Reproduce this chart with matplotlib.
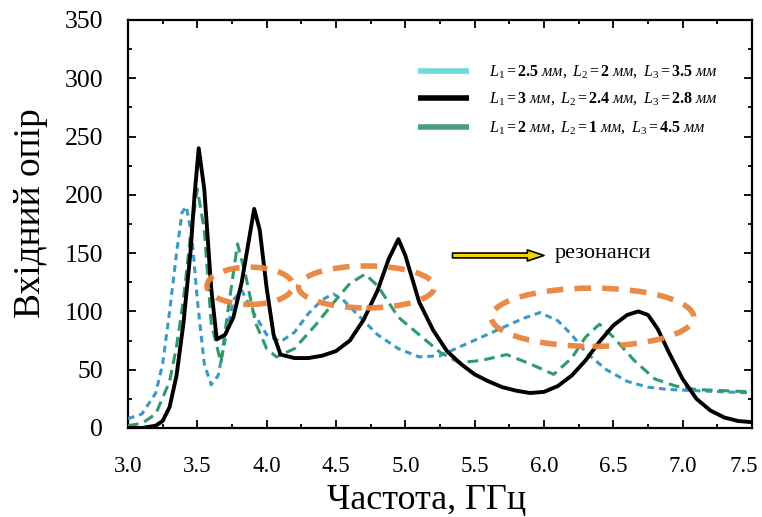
import numpy as np
import matplotlib.pyplot as plt
from matplotlib.patches import Ellipse
from matplotlib.transforms import ScaledTranslation

plt.rcParams['font.family'] = ['Liberation Serif', 'DejaVu Serif']
plt.rcParams['mathtext.fontset'] = 'custom'
plt.rcParams['mathtext.rm'] = 'Liberation Serif'
plt.rcParams['mathtext.it'] = 'Liberation Serif:italic'
plt.rcParams['mathtext.bf'] = 'Liberation Serif:bold'

# black solid: L1=3, L2=2.4, L3=2.8
f_black = [3.0, 3.1, 3.2, 3.25, 3.3, 3.35, 3.4, 3.45, 3.48, 3.51, 3.55, 3.6, 3.64, 3.7,
           3.76, 3.82, 3.87, 3.91, 3.95, 4.0, 4.05, 4.1, 4.2, 4.3, 4.4, 4.5, 4.6, 4.7,
           4.8, 4.88, 4.95, 5.0, 5.1, 5.2, 5.3, 5.4, 5.5, 5.6, 5.7, 5.8, 5.9, 6.0, 6.1,
           6.2, 6.3, 6.4, 6.5, 6.6, 6.68, 6.75, 6.82, 6.9, 7.0, 7.1, 7.2, 7.3, 7.4, 7.5]
z_black = [0, 0, 2, 6, 18, 45, 90, 150, 200, 240, 205, 120, 76, 80,
           95, 125, 160, 188, 170, 120, 80, 63, 60, 60, 62, 66, 75, 93,
           118, 145, 162, 148, 108, 84, 66, 55, 46, 40, 35, 32, 30, 31, 36,
           45, 58, 74, 88, 97, 100, 97, 85, 65, 42, 25, 15, 9, 6, 5]

# blue short-dashed: L1=2.5, L2=2, L3=3.5
f_blue = [3.0, 3.1, 3.2, 3.25, 3.3, 3.35, 3.39, 3.42, 3.46, 3.5, 3.55, 3.6, 3.65, 3.7,
          3.76, 3.82, 3.9, 4.0, 4.1, 4.2, 4.3, 4.4, 4.48, 4.55, 4.65, 4.8, 4.95, 5.1,
          5.25, 5.4, 5.55, 5.7, 5.85, 5.97, 6.1, 6.2, 6.3, 6.45, 6.6, 6.75, 6.9, 7.1,
          7.3, 7.5]
z_blue = [8, 12, 30, 55, 100, 150, 185, 190, 165, 110, 55, 37, 45, 75,
          110, 118, 100, 80, 74, 82, 98, 110, 115, 110, 98, 80, 68, 61,
          62, 70, 78, 86, 94, 99, 92, 80, 65, 50, 40, 35, 33, 32,
          31, 30]

# green dashed: L1=2, L2=1, L3=4.5
f_green = [3.0, 3.1, 3.2, 3.3, 3.35, 3.4, 3.45, 3.5, 3.55, 3.6, 3.67, 3.72, 3.79, 3.85,
           3.92, 4.0, 4.07, 4.2, 4.35, 4.5, 4.6, 4.71, 4.8, 4.95, 5.1, 5.25, 5.39, 5.55,
           5.73, 5.9, 6.07, 6.2, 6.3, 6.4, 6.5, 6.65, 6.8, 6.95, 7.1, 7.3, 7.5]
z_green = [2, 4, 12, 40, 70, 110, 165, 205, 170, 90, 56, 100, 158, 130,
           90, 68, 61, 68, 88, 110, 124, 132, 122, 95, 80, 65, 56, 58,
           63, 55, 46, 60, 78, 89, 78, 58, 42, 36, 33, 32, 31]

# highlighted resonance regions: centre x, centre y, width, height
ell_x = [3.88, 4.72, 6.35]
ell_y = [122, 121, 95]
ell_w = [0.62, 0.98, 1.46]
ell_h = [32, 36, 50]

legend_labels = [r'$L_1 = \mathbf{2.5}\ \mathit{мм},\ L_2 = \mathbf{2}\ \mathit{мм},\ L_3 = \mathbf{3.5}\ \mathit{мм}$',
                 r'$L_1 = \mathbf{3}\ \mathit{мм},\ L_2 = \mathbf{2.4}\ \mathit{мм},\ L_3 = \mathbf{2.8}\ \mathit{мм}$',
                 r'$L_1 = \mathbf{2}\ \mathit{мм},\ L_2 = \mathbf{1}\ \mathit{мм},\ L_3 = \mathbf{4.5}\ \mathit{мм}$']

fig = plt.figure(figsize=(7.62, 5.17), dpi=100)
ax = fig.add_axes([128 / 762, 1 - 428 / 517, 624 / 762, 408 / 517])

ax.plot(f_blue, z_blue, color='#3a9ac4', lw=2.2, linestyle=(0, (2.2, 1.6)), zorder=3)
ax.plot(f_green, z_green, color='#2f9a6a', lw=2.2, linestyle=(0, (3.5, 2)), zorder=3)
ax.plot(f_black, z_black, color='black', lw=2.8, zorder=4)

for cx, cy, w, h in zip(ell_x, ell_y, ell_w, ell_h):
    ax.add_patch(Ellipse((cx, cy), w, h, fill=False, edgecolor='#e8843c',
                         lw=4, linestyle=(0, (3, 2)), zorder=5, alpha=0.95))

# legend drawn as sample lines + labels
leg_colors = ['#6fd8d8', 'black', '#4a9c84']
leg_y = [306, 283, 258]
for c, yy, lab in zip(leg_colors, leg_y, legend_labels):
    ax.plot([5.09, 5.46], [yy, yy], color=c, lw=4, solid_capstyle='butt', zorder=6)
    ax.text(5.6, yy, lab, fontsize=11.5, va='center', ha='left', zorder=6)

# arrow + annotation
ax.annotate('', xy=(6.02, 148), xytext=(5.32, 148),
            arrowprops=dict(arrowstyle='simple,head_length=1.2,head_width=0.8,tail_width=0.35',
                            facecolor='#f2d500', edgecolor='black', lw=1.2))
ax.text(6.08, 150, 'резонанси', fontsize=16, va='center', ha='left')

ax.set_xlim(3.0, 7.5)
ax.set_ylim(0, 350)
ax.set_xticks(np.arange(3.0, 7.51, 0.5))
ax.set_xticks(np.arange(3.0, 7.51, 0.25), minor=True)
ax.set_yticks(np.arange(0, 351, 50))
ax.set_yticks(np.arange(0, 351, 25), minor=True)
ax.set_xticklabels(['%.1f' % v for v in np.arange(3.0, 7.51, 0.5)])
ax.tick_params(which='both', direction='in', top=True, right=True)
ax.tick_params(axis='y', labelsize=18.5, pad=18)
ax.tick_params(axis='x', labelsize=16.5, pad=20)
ax.tick_params(which='major', length=6, width=1.3)
ax.tick_params(which='minor', length=3, width=1.3)
for s in ax.spines.values():
    s.set_linewidth(1.6)

# keep last x tick label inside the figure
lbl = ax.get_xticklabels()[-1]
lbl.set_transform(lbl.get_transform() + ScaledTranslation(-8 / 100, 0, fig.dpi_scale_trans))

ax.set_xlabel('Частота, ГГц', fontsize=26)
ax.set_ylabel('Вхідний опір', fontsize=27)
ax.xaxis.set_label_coords(0.478, -0.138)
ax.yaxis.set_label_coords(-0.128, 0.527)

fig.savefig('out.png', dpi=100)
